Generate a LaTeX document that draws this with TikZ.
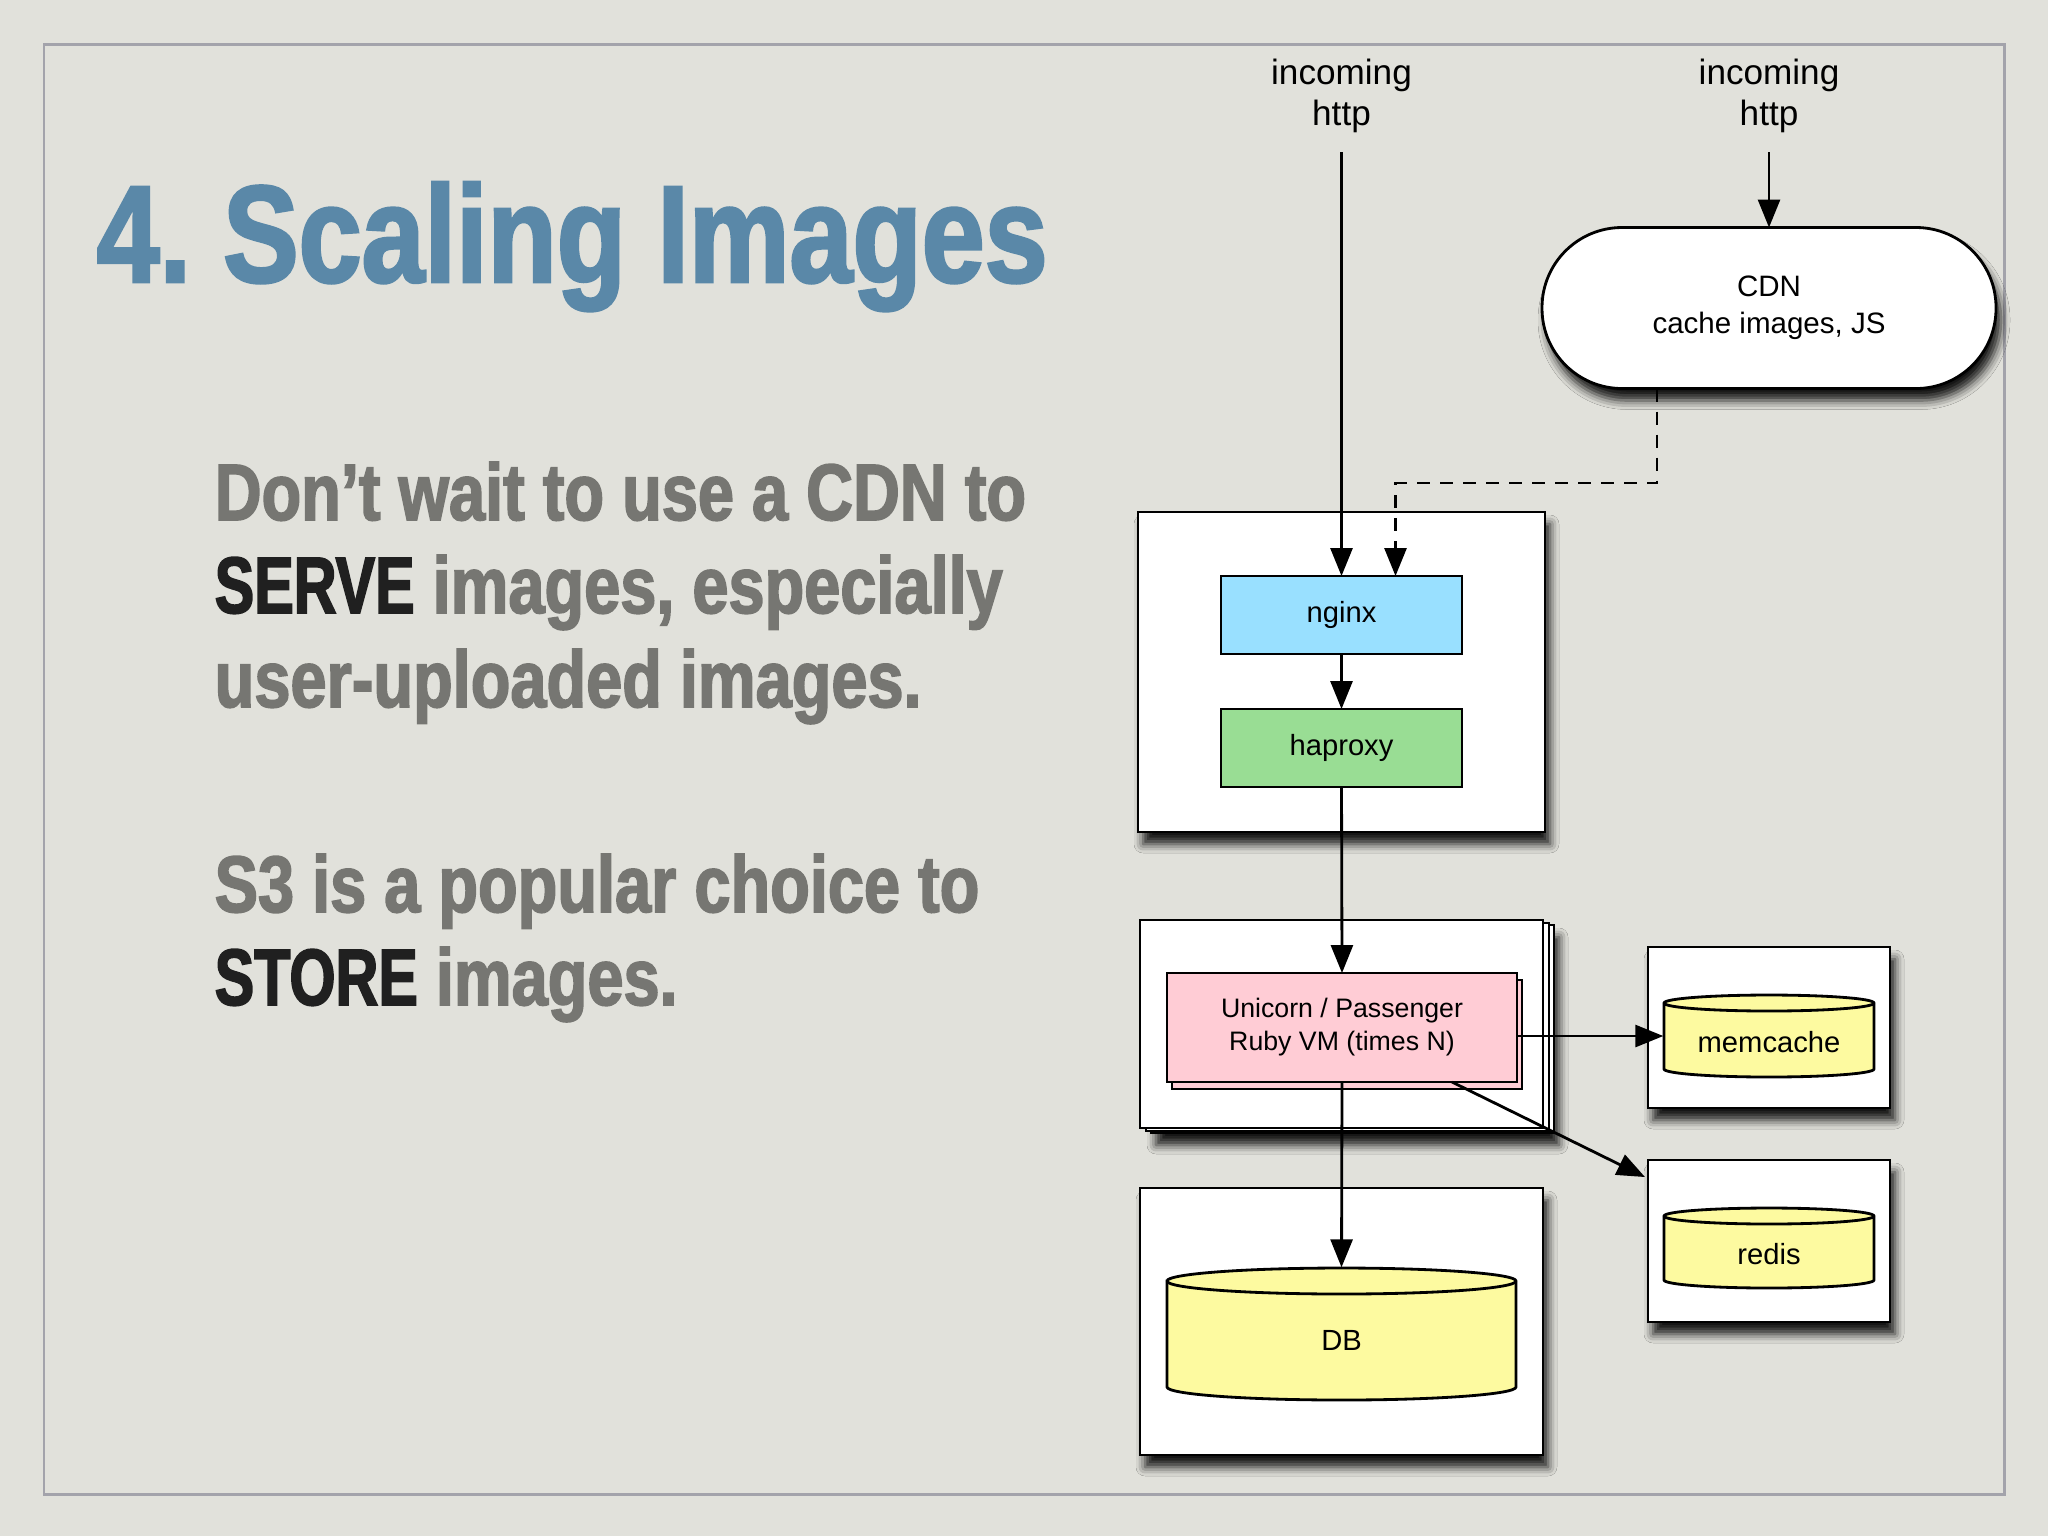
\documentclass[tikz,border=0pt]{standalone}
\usepackage{fontspec}
\usepackage{tikz}
\usetikzlibrary{calc}
\usetikzlibrary{arrows.meta}
\usetikzlibrary{positioning}
\usetikzlibrary{shadows.blur}
\setmainfont{Liberation Sans}
\newfontfamily\slidefont[FakeStretch=0.81, FakeBold=2]{Liberation Sans Bold}
\newfontfamily\headfont[FakeStretch=0.82, FakeBold=2]{Liberation Sans Bold}
\newfontfamily\capsfont[FakeStretch=0.74, FakeBold=2]{Liberation Sans Bold}
\definecolor{paper}{RGB}{225,225,219}
\definecolor{framegray}{RGB}{163,163,171}
\definecolor{titleblue}{RGB}{90,136,168}
\definecolor{bodygray}{RGB}{118,118,114}
\definecolor{emphdark}{RGB}{32,32,32}
\definecolor{nginxblue}{RGB}{153,224,255}
\definecolor{haproxygreen}{RGB}{153,221,148}
\definecolor{unicornpink}{RGB}{255,204,213}
\definecolor{drumyellow}{RGB}{253,250,160}

% cylinder: x1, ytop, x2, ybottom, y radius
\newcommand{\drum}[5]{%
	\filldraw[fill=drumyellow, line width=0.8pt] (#1,#2+#5) -- (#1,#4-#5)
		arc[start angle=180, end angle=0, x radius={(#3-#1)/2}, y radius=#5]
		-- (#3,#2+#5)
		arc[start angle=0, end angle=-180, x radius={(#3-#1)/2}, y radius=#5] -- cycle;
	\draw[line width=0.8pt] (#1,#2+#5) arc[start angle=180, end angle=0, x radius={(#3-#1)/2}, y radius=#5];
}
\newcommand{\loud}[1]{{\capsfont\color{emphdark}#1}}

\begin{document}
\begin{tikzpicture}[x=0.1mm, y=-0.1mm,
	boxnode/.style={draw=black, fill=white, line width=0.8pt, inner sep=0pt, outer sep=0pt},
	dropshade/.style={blur shadow={shadow xshift=0.5mm, shadow yshift=-1.2mm, shadow blur radius=0.9mm, shadow opacity=90}},
	procbox/.style={boxnode, minimum width=24.1mm, minimum height=7.8mm, font=\fontsize{8.3pt}{10pt}\selectfont},
	drumlabel/.style={inner sep=0pt, text height=9.5pt, text depth=0pt, font=\fontsize{8.3pt}{10pt}\selectfont},
	inlabel/.style={anchor=south, align=center, inner sep=0pt, font=\fontsize{10pt}{11.4pt}\selectfont},
	bodyline/.style={anchor=base west, inner sep=0pt, text=bodygray, font=\slidefont\fontsize{22.8pt}{26pt}\selectfont},
	linkarrow/.style={line width=0.8pt, -{Triangle[length=2.8mm, width=2.2mm]}}]

	\fill[paper] (0,0) rectangle (2048,1536);
	\draw[framegray, line width=0.85pt] (44,44) rectangle (2004,1494);

	\node[anchor=base west, inner sep=0pt, text=titleblue, font=\headfont\fontsize{39.3pt}{40pt}\selectfont] (title) at (96,282) {4.\hspace{-1mm} Scaling Images};

	\node[bodyline] (serveA) at (214,520) {Don’t wait to use a CDN to};
	\node[bodyline] (serveB) at (214,613) {\loud{SERVE} images, especially};
	\node[bodyline] (serveC) at (214,707) {user-uploaded images.};
	\node[bodyline] (storeA) at (214,912) {S3 is a popular choice to};
	\node[bodyline] (storeB) at (214,1005) {\loud{STORE} images.};

	\node[inlabel] (httpA) at (1341.5,133) {incoming\\http};
	\node[inlabel] (httpB) at (1769,133) {incoming\\http};

	\node[boxnode, dropshade, rounded corners=8mm, minimum width=45.4mm, minimum height=16.1mm, align=center, font=\fontsize{8.4pt}{10.5pt}\selectfont] (cdn) at (1769,308) {CDN\\cache images, JS};

	\node[boxnode, dropshade, minimum width=40.7mm, minimum height=32mm] (edge) at (1341.5,672) {};
	\node[procbox, fill=nginxblue] (nginx) at (1341.5,615) {nginx};
	\node[procbox, fill=haproxygreen] (haproxy) at (1341.5,748) {haproxy};

	\node[boxnode, dropshade, minimum width=40.3mm, minimum height=20.8mm] (appC) at (1352.5,1029) {};
	\node[boxnode, minimum width=40.3mm, minimum height=20.8mm] (appB) at (1347.5,1027) {};
	\node[boxnode, minimum width=40.3mm, minimum height=20.8mm] (app) at (1341.5,1024) {};
	\node[boxnode, fill=unicornpink, minimum width=35mm, minimum height=10.9mm] (unicornB) at (1347,1034.5) {};
	\node[boxnode, fill=unicornpink, minimum width=35mm, minimum height=10.9mm, align=center, font=\fontsize{7.6pt}{9.4pt}\selectfont] (unicorn) at (1342,1027.5) {Unicorn / Passenger\\Ruby VM (times N)};

	\node[boxnode, dropshade, minimum width=40.3mm, minimum height=26.7mm] (dbhost) at (1341.5,1321.5) {};
	\drum{1167}{1268}{1516}{1400}{13}
	\node[drumlabel, minimum width=34.9mm, minimum height=13.2mm] (db) at (1341.5,1334) {DB};

	\node[boxnode, dropshade, minimum width=24.2mm, minimum height=16.1mm] (mchost) at (1769,1027.5) {};
	\drum{1664}{995}{1874}{1077}{8}
	\node[drumlabel, minimum width=21mm, minimum height=8.2mm] (mc) at (1769,1036) {memcache};

	\node[boxnode, dropshade, minimum width=24.2mm, minimum height=16.2mm] (rdhost) at (1769,1241) {};
	\drum{1664}{1208}{1874}{1288}{8}
	\node[drumlabel, minimum width=21mm, minimum height=8mm] (rd) at (1769,1248) {redis};

	\draw[linkarrow, shorten <=1.9mm] (httpA.south) -- (nginx.north);
	\draw[linkarrow, shorten <=1.9mm] (httpB.south) -- (cdn.north);
	\draw[linkarrow, dash pattern=on 1.3mm off 1mm] ($(cdn.south)+(-112,0)$) |- ($(nginx.north)+(54,-93)$) -- ($(nginx.north)+(54,0)$);
	\draw[linkarrow] (nginx.south) -- (haproxy.north);
	\draw[linkarrow] (haproxy.south) -- (unicorn.north);
	\draw[linkarrow] (unicorn.south) -- (db.north);
	\draw[linkarrow] (unicorn.east |- mc.west) -- (mc.west);
	\draw[linkarrow] ($(unicorn.south)+(110,0)$) -- ($(rdhost.north west)+(-3,17)$);
\end{tikzpicture}
\end{document}
